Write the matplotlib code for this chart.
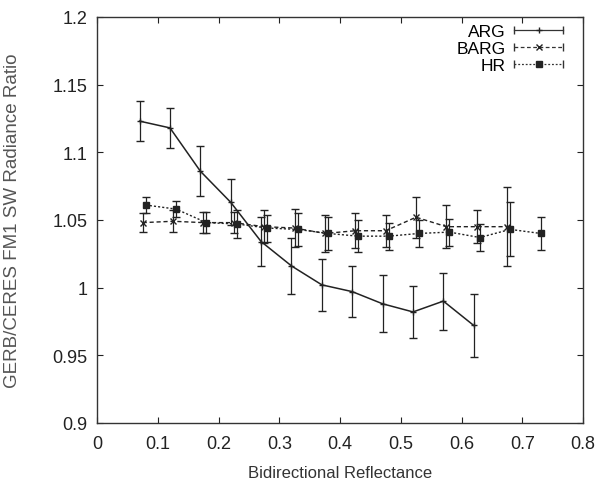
import numpy as np
import matplotlib
matplotlib.use('Agg')
import matplotlib.pyplot as plt
from matplotlib.lines import Line2D
from matplotlib.legend_handler import HandlerLine2D

plt.rcParams['font.family'] = ['Liberation Sans', 'DejaVu Sans']

# ARG
arg_x = [0.07, 0.12, 0.17, 0.22, 0.27, 0.32, 0.37, 0.42, 0.47, 0.52, 0.57, 0.62]
arg_y = [1.123, 1.118, 1.086, 1.063, 1.034, 1.016, 1.002, 0.997, 0.988, 0.982, 0.990, 0.972]
arg_err = [0.015, 0.0145, 0.0185, 0.017, 0.018, 0.021, 0.019, 0.019, 0.021, 0.019, 0.021, 0.023]

# BARG
barg_x = [0.075, 0.125, 0.175, 0.225, 0.275, 0.325, 0.375, 0.425, 0.475, 0.525, 0.575, 0.625, 0.675]
barg_y = [1.048, 1.049, 1.048, 1.048, 1.045, 1.044, 1.040, 1.042, 1.042, 1.052, 1.045, 1.045, 1.045]
barg_err = [0.007, 0.008, 0.008, 0.008, 0.012, 0.014, 0.014, 0.013, 0.012, 0.015, 0.016, 0.012, 0.029]

# HR
hr_x = [0.08, 0.13, 0.18, 0.23, 0.28, 0.33, 0.38, 0.43, 0.48, 0.53, 0.58, 0.63, 0.68, 0.73]
hr_y = [1.061, 1.058, 1.048, 1.047, 1.044, 1.043, 1.040, 1.038, 1.038, 1.040, 1.041, 1.037, 1.043, 1.040]
hr_err = [0.006, 0.006, 0.008, 0.010, 0.010, 0.012, 0.012, 0.012, 0.010, 0.010, 0.010, 0.010, 0.020, 0.012]

series = [
    ('ARG', arg_x, arg_y, arg_err, '-', '+', 1.1),
    ('BARG', barg_x, barg_y, barg_err, (0, (3, 2)), 'x', 1.0),
    ('HR', hr_x, hr_y, hr_err, (0, (1.5, 1.5)), 's', 1.0),
]

fig = plt.figure(figsize=(6.03, 4.85), dpi=100)
ax = fig.add_axes([0.161, 0.126, 0.806, 0.837])

handles = []
hmap = {}
for name, x, y, e, ls, mk, lw in series:
    ax.errorbar(x, y, yerr=e, color='#222222', lw=lw, ls=ls, marker=mk,
                ms=5 if mk == '+' else 4, capsize=3, elinewidth=0.9)
    # gnuplot-style key: line with end ticks and marker in the middle
    caps = Line2D([], [], color='#333333', lw=0.9, ls=ls, marker='|', ms=6)
    mid = Line2D([], [], color='#222222', lw=0, marker=mk, ms=5 if mk == '+' else 4)
    hmap[caps] = HandlerLine2D(numpoints=2, marker_pad=0)
    hmap[mid] = HandlerLine2D(numpoints=1)
    handles.append((caps, mid))

ax.set_xlim(0, 0.8)
ax.set_ylim(0.9, 1.2)
ax.set_xticks(np.arange(0, 0.81, 0.1))
ax.set_xticklabels(['0', '0.1', '0.2', '0.3', '0.4', '0.5', '0.6', '0.7', '0.8'])
ax.set_yticks([0.9, 0.95, 1.0, 1.05, 1.1, 1.15, 1.2])
ax.set_yticklabels(['0.9', '0.95', '1', '1.05', '1.1', '1.15', '1.2'])
ax.tick_params(direction='in', top=True, right=True, length=4, labelsize=13,
               colors='#222222')
ax.tick_params(axis='x', pad=9)
ax.tick_params(axis='y', pad=7)
for s in ax.spines.values():
    s.set_color('#333333')
    s.set_linewidth(1.0)

ax.set_xlabel('Bidirectional Reflectance', fontsize=12, color='#333333', labelpad=9)
ax.set_ylabel('GERB/CERES FM1 SW Radiance Ratio', fontsize=13.5, color='#555555')
ax.yaxis.set_label_coords(-0.157, 0.5)

ax.legend(handles, ['ARG', 'BARG', 'HR'], handler_map=hmap, loc='upper right',
          bbox_to_anchor=(0.973, 1.0), frameon=False, markerfirst=False, fontsize=12.5,
          handlelength=2.8, borderaxespad=0, labelspacing=0.1, handletextpad=0.5)

fig.savefig('out.png', dpi=100)
